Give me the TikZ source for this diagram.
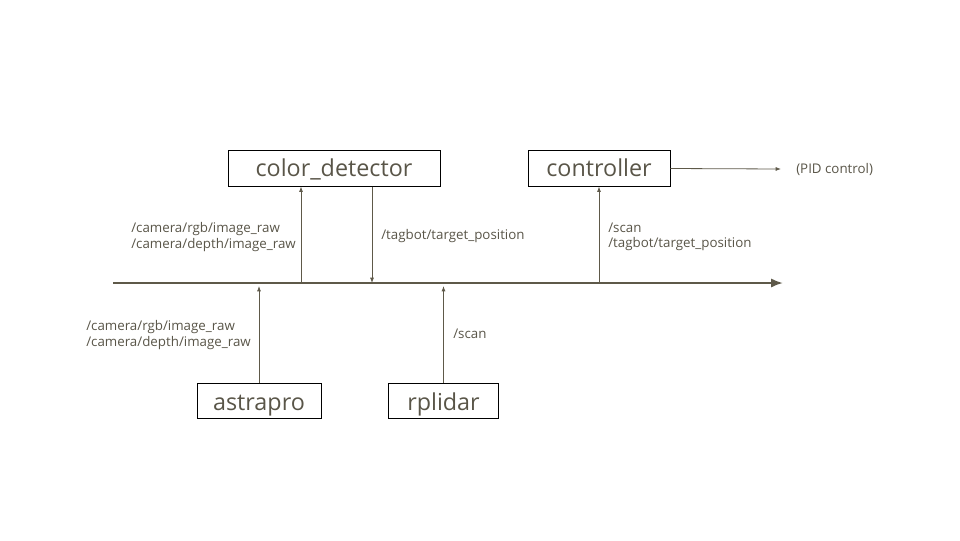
\documentclass[tikz,border=0pt]{standalone}
\usepackage{fontspec}
\setmainfont{Open Sans}
\usetikzlibrary{arrows.meta}

\definecolor{txtgray}{HTML}{595548}
\definecolor{linegray}{HTML}{5E5949}

\begin{document}
\begin{tikzpicture}[x=0.75pt,y=0.75pt,yscale=-1,xscale=1,
  nodebox/.style={draw=black,line width=0.6pt,minimum height=26.5pt,inner sep=0pt,
    text height=14pt,text depth=2pt,
    text=txtgray,font=\fontsize{17.5}{19}\selectfont},
  lowbox/.style={nodebox,text height=14.6pt,text depth=0pt},
  topic/.style={anchor=west,inner sep=0pt,text=txtgray,align=left,
    font=\fontsize{10}{11.5}\selectfont},
  msg/.style={draw=linegray,line width=0.6pt,-{Latex[length=4pt,width=3pt]}}]

\useasboundingbox (0,0) rectangle (960,540);

% nodes
\node[nodebox,minimum width=159pt] (colordet) at (334,168.5) {color\_detector};
\node[nodebox,minimum width=106.5pt] (ctrl) at (599,168.5) {controller};
\node[lowbox,minimum width=93pt] (astra) at (259,401) {astrapro};
\node[lowbox,minimum width=83pt] (lidar) at (443.5,401) {rplidar};

% bus
\coordinate (busL) at (113,283);
\coordinate (busR) at (783,283);
\draw[draw=linegray,line width=1.6pt,-{Latex[length=9pt,width=7pt]}] (busL) -- (busR);

\coordinate (tapA) at (259,286);
\coordinate (tapB) at (301,283);
\coordinate (tapC) at (372,283);
\coordinate (tapD) at (443.5,286);
\coordinate (tapE) at (599,283);
\coordinate (pid) at (781,169);

\draw[msg] (astra.north) -- (tapA);
\draw[msg] (lidar.north) -- (tapD);
\draw[msg] (tapB) -- (tapB |- colordet.south);
\draw[msg] (tapC |- colordet.south) -- (tapC);
\draw[msg] (tapE) -- (ctrl.south);
\draw[msg] (ctrl.east) -- (pid);

% labels
\node[topic] (lblA) at (131,237) {/camera/rgb/image\_raw\\/camera/depth/image\_raw};
\node[topic] (lblB) at (381,236) {/tagbot/target\_position};
\node[topic] (lblC) at (608,237) {/scan\\/tagbot/target\_position};
\node[topic] (lblD) at (86,335) {/camera/rgb/image\_raw\\/camera/depth/image\_raw};
\node[topic] (lblE) at (453,334) {/scan};
\node[topic] (lblF) at (796,169) {(PID control)};

\end{tikzpicture}
\end{document}
